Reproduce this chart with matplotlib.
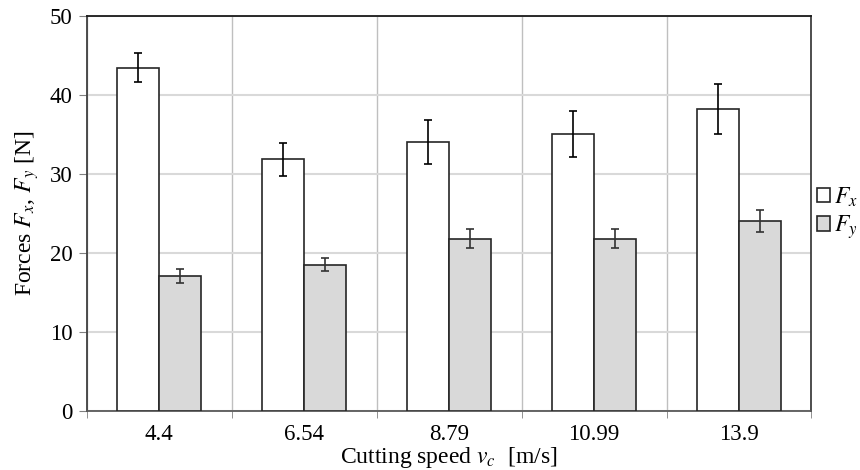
import matplotlib
matplotlib.use("Agg")
import matplotlib.pyplot as plt
import numpy as np

speeds = ["4.4", "6.54", "8.79", "10.99", "13.9"]
fx = [43.4, 31.8, 34.0, 35.0, 38.2]
fx_err = [1.85, 2.05, 2.75, 2.9, 3.2]
fy = [17.05, 18.5, 21.8, 21.8, 24.0]
fy_err = [0.85, 0.85, 1.15, 1.15, 1.35]

plt.rcParams['font.family'] = ['Liberation Serif', 'DejaVu Serif']
plt.rcParams['mathtext.fontset'] = 'stix'

fig = plt.figure(figsize=(8.6, 4.7), dpi=100)
ax = fig.add_axes([0.1006, 0.1255, 0.843, 0.8415])

x = np.arange(len(speeds))
w = 0.29
ax.bar(x, fx, width=-w, align='edge', color='white', edgecolor='#262626',
       linewidth=1.2, label='$F_x$', zorder=3)
ax.bar(x, fy, width=w, align='edge', color='#d9d9d9', edgecolor='#262626',
       linewidth=1.2, label='$F_y$', zorder=3)
ax.errorbar(x - w / 2, fx, yerr=fx_err, fmt='none', ecolor='black',
            elinewidth=1.2, capsize=3, capthick=1.2, zorder=4)
ax.errorbar(x + w / 2, fy, yerr=fy_err, fmt='none', ecolor='#333333',
            elinewidth=1.2, capsize=3, capthick=1.2, zorder=4)

ax.set_xlim(-0.5, len(speeds) - 0.5)
ax.set_ylim(0, 50)
ax.set_yticks(np.arange(0, 51, 10))
ax.set_xticks(x)
ax.set_xticklabels(speeds)
ax.set_xticks(np.arange(-0.5, len(speeds)), minor=True)
ax.tick_params(axis='x', which='major', length=0, labelsize=16.5, pad=9)
ax.tick_params(axis='x', which='minor', length=5, color='#808080', direction='out')
ax.tick_params(axis='y', which='major', length=6, color='#808080', labelsize=16.5, pad=4)

ax.grid(axis='y', which='major', color='#d9d9d9', linewidth=1.5, zorder=0)
ax.grid(axis='x', which='minor', color='#bfbfbf', linewidth=1.0, zorder=0)
ax.set_axisbelow(True)

for s in ax.spines.values():
    s.set_color('#404040')
    s.set_linewidth(1.3)
ax.spines['top'].set_color('#1a1a1a')
ax.spines['bottom'].set_color('#595959')

ax.set_xlabel('Cutting speed $v_c$  [m/s]', fontsize=17, labelpad=0)
ax.set_ylabel('Forces $F_x$, $F_y$ [N]', fontsize=17, labelpad=6)

ax.legend(loc='center left', bbox_to_anchor=(1.0, 0.5), frameon=False,
          fontsize=17, handlelength=0.55, handleheight=0.55,
          handletextpad=0.15, borderaxespad=0.15, borderpad=0.1,
          labelspacing=0.2)

fig.savefig('out.png', dpi=100)
